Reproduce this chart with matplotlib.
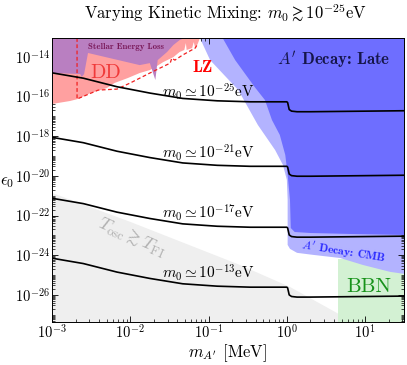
import numpy as np
import matplotlib
matplotlib.use("Agg")
import matplotlib.pyplot as plt
from matplotlib.ticker import FixedLocator, LogLocator, NullFormatter, LogFormatterSciNotation

plt.rcParams['font.family'] = 'serif'
plt.rcParams['font.serif'] = ['cmr10']
plt.rcParams['mathtext.fontset'] = 'cm'
plt.rcParams['axes.formatter.use_mathtext'] = True

# ---- data (log10 of m_A' [MeV] and log10 of eps_0) ----
curve_lx = [-3.0, -2.6, -2.17, -1.75, -1.33, -0.89, -0.47, 0.0, 0.01, 0.03, 0.06, 0.13, 0.3, 1.5]
curve_m25 = [-14.81, -15.08, -15.51, -15.83, -16.10, -16.22, -16.27, -16.27, -16.31, -16.66, -16.74, -16.77, -16.77, -16.72]
curve_m21 = [-18.06, -18.33, -18.76, -19.08, -19.35, -19.47, -19.52, -19.52, -19.56, -19.91, -19.99, -20.02, -20.02, -19.97]
curve_m17 = [-21.13, -21.40, -21.83, -22.15, -22.42, -22.54, -22.59, -22.59, -22.63, -22.98, -23.06, -23.09, -23.09, -23.04]
curve_m13 = [-24.15, -24.42, -24.85, -25.17, -25.44, -25.56, -25.61, -25.61, -25.65, -26.00, -26.08, -26.11, -26.11, -26.06]
curve_labels = [r"$m_0 \simeq 10^{-25}$eV", r"$m_0 \simeq 10^{-21}$eV",
                r"$m_0 \simeq 10^{-17}$eV", r"$m_0 \simeq 10^{-13}$eV"]
label_ly = [-15.78, -18.85, -21.87, -24.89]

stellar_lx = [-3.0, -3.0, -2.64, -2.62, -2.59, -2.54, -1.88, -1.75, -1.68, -1.65, -1.53, -1.45, -1.37, -1.31]
stellar_ly = [-13.06, -14.82, -14.87, -15.02, -14.87, -13.81, -14.42, -14.32, -15.17, -14.17, -13.76, -13.41, -13.16, -13.06]

dd_lx = [-3.0, -1.11, -1.14, -1.17, -1.19, -1.21, -1.28, -1.29, -1.31, -1.37, -1.45, -1.58, -1.68,
         -1.75, -1.88, -2.03, -2.20, -2.30, -2.51, -2.67, -2.77, -3.0]
dd_ly = [-13.06, -13.06, -13.36, -13.56, -13.26, -13.56, -13.66, -13.31, -13.66, -13.76, -14.02, -14.27, -14.52,
         -14.67, -14.82, -15.07, -15.32, -15.58, -15.83, -16.13, -16.23, -16.38]

lz_lx = [-2.68, -2.68, -2.41, -2.17, -2.00, -1.75, -1.49, -1.47, -1.43, -1.33, -1.17, -1.14]
lz_ly = [-13.06, -16.13, -15.68, -15.63, -15.32, -14.82, -14.32, -14.07, -14.17, -13.91, -13.56, -13.36]

cmb_lx = [-1.11, -0.98, -0.62, -0.37, -0.15, -0.05, 0.0, 0.01, 0.01, 0.04, 0.13, 0.33, 0.68, 0.97, 1.32, 1.5, 1.5]
cmb_ly = [-13.06, -14.17, -15.68, -17.44, -18.70, -19.45, -20.20, -21.21, -23.48, -23.68, -23.88, -23.98,
          -24.14, -24.49, -24.84, -24.94, -13.06]

late_lx = [-0.82, -0.66, -0.41, -0.28, -0.19, -0.09, -0.02, 0.01, 0.04, 0.05, 0.10, 0.30, 0.81, 1.5, 1.5]
late_ly = [-13.06, -14.17, -15.53, -16.18, -17.19, -17.94, -18.95, -19.95, -21.21, -22.63, -22.83, -22.88,
           -22.93, -22.98, -13.06]

bbn_lx = [0.65, 1.5]
bbn_ly = [-27.4, -24.2]

fi_lx = [-3.0, -2.0, -0.60, 0.04, 0.64, 0.84, -3.0]
fi_ly = [-20.86, -22.32, -24.49, -25.60, -26.91, -27.4, -27.4]

xlim_l = (-3.0, 1.49)
ylim_l = (-27.35, -13.07)

p = lambda v: 10.0 ** np.array(v)

fig = plt.figure(figsize=(4.07, 3.65), dpi=100)
ax = fig.add_axes([52 / 407, 43.3 / 365, 351.5 / 407, 283.4 / 365])
ax.set_xscale('log')
ax.set_yscale('log')

ax.fill(p(fi_lx), p(fi_ly), color='#efefef', lw=0, zorder=1)
ax.fill_between(p(bbn_lx), p(bbn_ly[0]), p(bbn_ly[1]), color='#d3f1d3', lw=0, zorder=1)
ax.fill(p(cmb_lx), p(cmb_ly), color='#b3b3ff', lw=0, zorder=2)
ax.fill(p(late_lx), p(late_ly), color='#6e6eff', lw=0, zorder=3)
ax.fill(p(dd_lx), p(dd_ly), color='#ffa0a0', lw=0, zorder=4)
ax.fill(p(stellar_lx), p(stellar_ly), color='#b97fc1', lw=0, zorder=5)
ax.plot(p(lz_lx), p(lz_ly), color='#f02020', ls=(0, (3, 2)), lw=0.9, zorder=6)

for cy, lab, ly in zip([curve_m25, curve_m21, curve_m17, curve_m13], curve_labels, label_ly):
    ax.plot(p(curve_lx), p(cy), color='black', lw=1.2, zorder=7)
    ax.text(p(-1.60), p(ly), lab, fontsize=11, va='center', ha='left', zorder=8)

ax.text(p(-2.54), p(-13.51), "Stellar Energy Loss", family='cmb10', fontsize=6.4,
        color='#7a1a5a', va='center', ha='left', zorder=8)
ax.text(p(-2.32), p(-14.80), "DD", fontsize=14.5, color='#f03a3a', va='center', ha='center', zorder=8)
ax.text(p(-1.08), p(-14.52), "LZ", family='cmb10', fontsize=12, color='#ff0000',
        va='center', ha='center', zorder=8)
ax.text(p(1.32), p(-14.17), r"$A'$ Decay: Late", family='cmb10', fontsize=12,
        color='#16164a', va='center', ha='right', zorder=8)
ax.text(p(-1.98), p(-23.08), r"$T_{\rm osc} \gtrsim T_{\rm FI}$", fontsize=13, color='#b0b0b0',
        rotation=-24, va='center', ha='center', zorder=8)
ax.text(p(0.72), p(-23.83), r"$A'$ Decay: CMB", family='cmb10', fontsize=8.5, color='#2a2aff',
        rotation=-9, va='center', ha='center', zorder=8)
ax.text(p(1.04), p(-25.60), "BBN", fontsize=15, color='#17921a', va='center', ha='center', zorder=8)

ax.set_xlim(p(xlim_l[0]), p(xlim_l[1]))
ax.set_ylim(p(ylim_l[0]), p(ylim_l[1]))

ax.yaxis.set_major_locator(FixedLocator(p([-14, -16, -18, -20, -22, -24, -26])))
ax.yaxis.set_major_formatter(LogFormatterSciNotation())
ax.yaxis.set_minor_locator(LogLocator(base=10, subs=np.arange(1, 10), numticks=100))
ax.yaxis.set_minor_formatter(NullFormatter())
ax.xaxis.set_major_locator(LogLocator(base=10, numticks=20))
ax.xaxis.set_minor_locator(LogLocator(base=10, subs=np.arange(2, 10), numticks=100))
ax.xaxis.set_minor_formatter(NullFormatter())
ax.tick_params(which='both', direction='in', top=True, right=True, labelsize=10.5, pad=1.5)
ax.tick_params(which='major', length=4, width=0.6)
ax.tick_params(which='minor', length=2, width=0.5)
for s in ax.spines.values():
    s.set_linewidth(0.7)
    s.set_zorder(10)
ax.set_axisbelow(False)

ax.set_xlabel(r"$m_{A'}$ [MeV]", fontsize=12)
ax.xaxis.set_label_coords(0.5, -0.072)
ax.set_ylabel(r"$\epsilon_0$", fontsize=12, rotation=0, va='center')
ax.yaxis.set_label_coords(-0.128, 0.49)
fig.text(0.553, 1 - 12 / 365, r"Varying Kinetic Mixing: $m_0 \gtrsim 10^{-25}$eV",
         fontsize=12, ha='center', va='center')

fig.savefig('out.png', dpi=100)
